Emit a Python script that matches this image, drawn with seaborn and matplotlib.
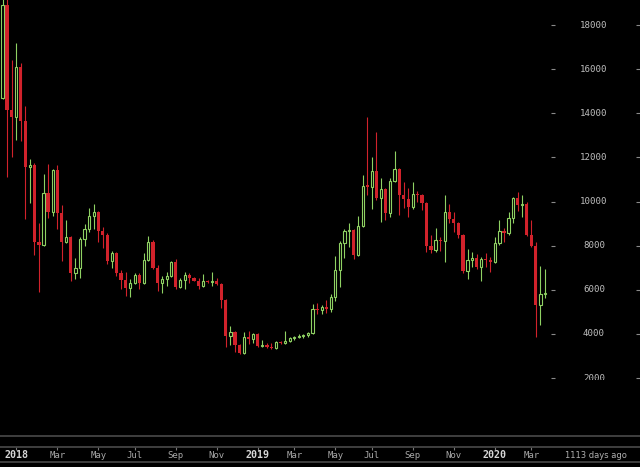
import numpy as np
import pandas as pd
import matplotlib
matplotlib.use('Agg')
import matplotlib.pyplot as plt
import matplotlib.dates as mdates
from matplotlib.lines import Line2D
import seaborn as sns

# weekly candles, Dec 2017 - Mar 2020
weeks = pd.date_range('2017-12-11', periods=120, freq='7D')

opens = [14692, 18906, 14149, 13832, 16097, 13650, 11566, 11657, 8168, 8032,
         10388, 9527, 11430, 9482, 8168, 8395, 6763, 6990, 8304, 8757,
         9346, 9527, 8666, 8485, 7307, 7670, 6763, 6446, 6083, 6310,
         6673, 6310, 7352, 8168, 6990, 6310, 6491, 6627, 7262, 6129,
         6446, 6673, 6537, 6401, 6174, 6401, 6355, 6401, 6265, 5540,
         3908, 4090, 3501, 3138, 3863, 3772, 3999, 3455, 3501, 3410,
         3365, 3637, 3591, 3682, 3818, 3863, 3908, 3954, 4044, 5131,
         5086, 5222, 5131, 5676, 6899, 8123, 8666, 8712, 7579, 8893,
         10750, 10660, 11385, 10161, 10569, 9482, 10932, 11475, 10297, 10116,
         9753, 10343, 10297, 9935, 7987, 7805, 8258, 8213, 9527, 9210,
         9029, 8485, 6854, 7352, 7443, 7035, 7398, 7352, 7262, 8123,
         8666, 8576, 9255, 10161, 9844, 9890, 8485, 7987, 5313, 5811]
highs = [19700, 19200, 16414, 17184, 16278, 14330, 11928, 11747, 9029, 11249,
         11702, 11475, 11657, 9844, 9164, 8440, 7443, 8395, 8983, 9709,
         9890, 9572, 8847, 8576, 7760, 7700, 6899, 6808, 6491, 6763,
         6763, 7670, 8440, 8258, 7126, 6627, 6808, 7307, 7398, 6537,
         6808, 6763, 6582, 6537, 6718, 6446, 6808, 6537, 6310, 5580,
         4361, 4130, 3546, 4090, 4135, 4044, 4044, 3727, 3591, 3591,
         3682, 3682, 4135, 3863, 3908, 3999, 3999, 4070, 5358, 5404,
         5313, 5540, 5811, 7534, 8213, 8757, 9029, 8760, 9346, 11203,
         13850, 12019, 13152, 11068, 10614, 11068, 12291, 11521, 10886, 10614,
         10886, 10479, 10330, 9960, 8485, 8802, 8395, 10297, 9890, 9527,
         9074, 8520, 7851, 7715, 7624, 7488, 7670, 7488, 8395, 9164,
         8802, 9527, 10200, 10433, 10297, 9980, 9164, 8168, 7080, 6944]
lows = [14650, 11113, 12019, 12789, 12744, 9210, 9935, 7579, 5902, 7990,
        9255, 9346, 8757, 7307, 8123, 6401, 6491, 6537, 7987, 8621,
        8757, 8168, 7896, 7171, 6990, 6627, 6038, 5721, 5676, 6250,
        6038, 6250, 7300, 6950, 5947, 5857, 6174, 6580, 6038, 6083,
        6038, 6310, 6380, 6038, 6150, 6310, 6174, 6219, 5177, 3410,
        3501, 3183, 3100, 3100, 3546, 3591, 3420, 3410, 3380, 3319,
        3340, 3546, 3560, 3637, 3727, 3818, 3818, 3863, 4000, 4905,
        4905, 4950, 4995, 5494, 6129, 7443, 7941, 7398, 7534, 8850,
        10297, 9663, 10071, 9074, 9164, 9300, 10886, 9391, 9709, 9300,
        9663, 9980, 9618, 7715, 7670, 7715, 7760, 7262, 9029, 8621,
        8349, 6763, 6491, 7035, 6944, 6401, 7035, 6808, 7220, 8032,
        8168, 8485, 9029, 9572, 9300, 8440, 7950, 3863, 4406, 5630]
closes = [18906, 14149, 13832, 16097, 13650, 11566, 11657, 8168, 8032, 10388,
          9527, 11430, 9482, 8168, 8395, 6763, 6990, 8304, 8757, 9346,
          9527, 8666, 8485, 7307, 7670, 6763, 6446, 6083, 6310, 6673,
          6310, 7352, 8168, 6990, 6310, 6491, 6627, 7262, 6129, 6446,
          6673, 6537, 6401, 6174, 6401, 6355, 6401, 6265, 5540, 3908,
          4090, 3501, 3138, 3863, 3772, 3999, 3455, 3501, 3410, 3365,
          3637, 3591, 3682, 3818, 3863, 3908, 3954, 4044, 5131, 5086,
          5222, 5131, 5676, 6899, 8123, 8666, 8712, 7579, 8893, 10705,
          10660, 11385, 10161, 10569, 9482, 10932, 11475, 10297, 10116, 9753,
          10343, 10297, 9935, 7987, 7805, 8258, 8213, 9527, 9210, 9029,
          8485, 6854, 7352, 7443, 7035, 7398, 7352, 7262, 8123, 8666,
          8576, 9255, 10161, 9844, 9890, 8485, 7987, 5313, 5811, 5857]

price_ticks = [2000, 4000, 6000, 8000, 10000, 12000, 14000, 16000, 18000]
tick_months = ['2018-01', '2018-03', '2018-05', '2018-07', '2018-09', '2018-11',
               '2019-01', '2019-03', '2019-05', '2019-07', '2019-09', '2019-11',
               '2020-01', '2020-03']
tick_labels = ['2018', 'Mar', 'May', 'Jul', 'Sep', 'Nov',
               '2019', 'Mar', 'May', 'Jul', 'Sep', 'Nov',
               '2020', 'Mar']
age_label = '1113 days ago'

df = pd.DataFrame({'date': weeks, 'open': opens, 'high': highs,
                   'low': lows, 'close': closes})
df['x'] = mdates.date2num(df['date'])
df['up'] = df['close'] >= df['open']

sns.set_theme(style='dark', rc={'axes.facecolor': 'black', 'figure.facecolor': 'black',
                                'savefig.facecolor': 'black'})
plt.rcParams['font.family'] = ['DejaVu Sans Mono', 'DejaVu Sans']

GREEN = '#8fd163'
RED = '#d1222b'
GRID = '#4a4a4a'

W, H = 640, 467
fig = plt.figure(figsize=(6.4, 4.67), dpi=100)
pane_w, pane_h = 551, 380
day_px = 542.5 / 833          # pixels per day
px = 1 / day_px               # days per pixel
x_left = df['x'].iloc[0] - 2.5 * px
ylim = (1915, 19133)

ax = fig.add_axes([0, (H - pane_h) / H, pane_w / W, pane_h / H])
ax.set_facecolor('black')

# wicks
ax.vlines(df['x'], df['low'], df['high'],
          colors=np.where(df['up'], GREEN, RED), lw=0.8, zorder=2)

# bodies
dn = df[~df['up']]
ax.bar(dn['x'], np.maximum(dn['open'] - dn['close'], 45), bottom=dn['close'],
       width=3.2 * px, color=RED, lw=0, zorder=3)
up = df[df['up']]
ax.bar(up['x'], np.maximum(up['close'] - up['open'], 45), bottom=up['open'],
       width=2.2 * px, facecolor='black', edgecolor=GREEN, lw=0.8, zorder=3)

ax.set_xlim(x_left, x_left + pane_w * px)
ax.set_ylim(*ylim)
ax.set_xticks([])
ax.set_yticks([])
for s in ax.spines.values():
    s.set_visible(False)

# price labels on the right
axp = fig.add_axes([pane_w / W, (H - pane_h) / H, (W - pane_w) / W, pane_h / H])
axp.set_facecolor('black')
axp.set_xlim(0, W - pane_w)
axp.set_ylim(*ylim)
axp.axis('off')
axp.hlines(price_ticks, 0, 3.5, colors='#8a8a8a', lw=0.8)
axp.hlines(price_ticks, W - pane_w - 4, W - pane_w, colors='#8a8a8a', lw=0.8)
for p in price_ticks:
    axp.text(43, p, str(p), ha='center', va='center', fontsize=6.6,
             color='#bdbdbd', clip_on=True)

# time strip at the bottom
strip_top, strip_bot = 447, 462
axt = fig.add_axes([0, (H - strip_bot) / H, 1, (strip_bot - strip_top) / H])
axt.set_facecolor('black')
axt.set_xlim(x_left, x_left + W * px)
axt.set_ylim(0, 1)
for side in ['top', 'bottom']:
    axt.spines[side].set_color(GRID)
    axt.spines[side].set_linewidth(1.2)
for side in ['left', 'right']:
    axt.spines[side].set_visible(False)

# tick at the first weekly candle of each labelled month
tick_x = [df.loc[df['date'].dt.strftime('%Y-%m') == m, 'x'].iloc[0] for m in tick_months]
axt.xaxis.set_ticks_position('top')
axt.set_xticks(tick_x)
axt.tick_params(axis='x', direction='in', length=2.5, width=0.8, color='#777777',
                labeltop=False, labelbottom=False)
axt.set_yticks([])
for tx, lab in zip(tick_x, tick_labels):
    is_year = lab.isdigit()
    axt.text(tx, 0.45, lab, ha='center', va='center',
             fontsize=7.2 if is_year else 6.5,
             fontweight='bold' if is_year else 'normal',
             color='#d6d6d6' if is_year else '#a8a8a8')
axt.text(596 / W, 0.45, age_label, transform=axt.transAxes, ha='center', va='center',
         fontsize=6, color='#b0b0b0', family='DejaVu Sans')

fig.add_artist(Line2D([0, 1], [(H - 436) / H] * 2, transform=fig.transFigure,
                      color=GRID, lw=1.2))

fig.savefig('out.png', dpi=100, facecolor='black')
